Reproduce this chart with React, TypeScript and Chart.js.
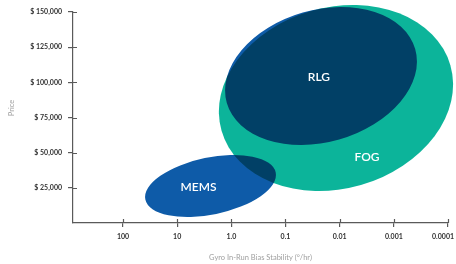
import { useEffect, useRef } from "react";
import { Chart, registerables } from "chart.js";

Chart.register(...registerables);

// Axis ticks
const xTickValues = [100, 10, 1, 0.1, 0.01, 0.001, 0.0001];
const xTickLabels = ["100", "10", "1.0", "0.1", "0.01", "0.001", "0.0001"];
const yTickValues = [25000, 50000, 75000, 100000, 125000, 150000];
const yTickLabels = ["$ 25,000", "$ 50,000", "$ 75,000", "$ 100,000", "$ 125,000", "$ 150,000"];

// Technology regions (ellipses)
const technologies = ["FOG", "RLG", "MEMS"];
const centerStability = [0.0117, 0.0221, 2.42]; // °/hr
const centerPrice = [88860, 104500, 26300]; // $
const spanDecades = [2.197, 1.809, 1.229]; // semi-axis along stability (decades)
const spanPrice = [64340, 46920, 20260]; // semi-axis along price ($)
const tiltDeg = [16, 16, 11.7];
const labelStability = [0.00313, 0.0241, 4.04];
const labelPrice = [46920, 103790, 25590];

const fillColors = ["#0cb49a", "#0e5ba8", "#0e5ba8"];
const blendModes = ["source-over", "multiply", "multiply"];

const AXIS_COLOR = "#5a5a5a";
const FONT = "Lato, 'Open Sans', sans-serif";

const ellipsePlugin = {
  id: "ellipses",
  beforeDatasetsDraw(chart: any) {
    const { ctx, scales } = chart;
    const xs = scales.x;
    const ys = scales.y;
    ctx.save();
    technologies.forEach((_, i) => {
      const cx = xs.getPixelForValue(centerStability[i]);
      const cy = ys.getPixelForValue(centerPrice[i]);
      const rx = Math.abs(xs.getPixelForValue(centerStability[i] * Math.pow(10, spanDecades[i])) - cx);
      const ry = Math.abs(ys.getPixelForValue(centerPrice[i] + spanPrice[i]) - cy);
      ctx.globalCompositeOperation = blendModes[i];
      ctx.fillStyle = fillColors[i];
      ctx.beginPath();
      ctx.ellipse(cx, cy, rx, ry, (-tiltDeg[i] * Math.PI) / 180, 0, Math.PI * 2);
      ctx.fill();
    });
    ctx.globalCompositeOperation = "source-over";
    ctx.fillStyle = "#ffffff";
    ctx.font = `600 12px ${FONT}`;
    ctx.textAlign = "center";
    ctx.textBaseline = "middle";
    technologies.forEach((name, i) => {
      ctx.fillText(name, xs.getPixelForValue(labelStability[i]), ys.getPixelForValue(labelPrice[i]));
    });
    ctx.restore();
  },
  afterDraw(chart: any) {
    const { ctx, scales, chartArea, width } = chart;
    const xs = scales.x;
    const ys = scales.y;
    ctx.save();
    ctx.strokeStyle = AXIS_COLOR;
    ctx.lineWidth = 1.2;
    ctx.beginPath();
    xTickValues.forEach((v) => {
      const px = Math.round(xs.getPixelForValue(v)) + 0.5;
      ctx.moveTo(px, chartArea.bottom);
      ctx.lineTo(px, chartArea.bottom - 4);
    });
    yTickValues.forEach((v) => {
      const py = Math.round(ys.getPixelForValue(v)) + 0.5;
      ctx.moveTo(chartArea.left, py);
      ctx.lineTo(chartArea.left + 4, py);
    });
    ctx.stroke();
    // x tick labels (kept inside the canvas)
    ctx.fillStyle = "#333333";
    ctx.font = `bold 7px ${FONT}`;
    ctx.textAlign = "center";
    ctx.textBaseline = "middle";
    xTickValues.forEach((v, i) => {
      const px = xs.getPixelForValue(v);
      const w = ctx.measureText(xTickLabels[i]).width;
      const cx = Math.min(px, width - 2 - w / 2);
      ctx.fillText(xTickLabels[i], cx, chartArea.bottom + 14);
    });
    // y axis title
    ctx.translate(12, 108);
    ctx.rotate(-Math.PI / 2);
    ctx.fillStyle = "#a0a0a0";
    ctx.font = `400 7.5px ${FONT}`;
    ctx.textAlign = "center";
    ctx.textBaseline = "middle";
    ctx.fillText("Price", 0, 0);
    ctx.restore();
  },
};

export default function App() {
  const canvasRef = useRef<HTMLCanvasElement | null>(null);

  useEffect(() => {
    if (!canvasRef.current) return;
    const chart = new Chart(canvasRef.current, {
      type: "scatter",
      data: {
        datasets: technologies.map((name, i) => ({
          label: name,
          data: [{ x: centerStability[i], y: centerPrice[i] }],
          pointRadius: 0,
          pointHoverRadius: 0,
        })),
      },
      options: {
        animation: false,
        responsive: false,
        maintainAspectRatio: false,
        events: [],
        layout: { padding: { top: 12, right: 8, left: 0, bottom: 0 }, autoPadding: false },
        plugins: { legend: { display: false }, tooltip: { enabled: false } },
        scales: {
          x: {
            type: "logarithmic",
            position: "bottom",
            reverse: true,
            min: 0.0001,
            max: 837,
            afterBuildTicks: (scale: any) => {
              scale.ticks = xTickValues.map((v) => ({ value: v }));
            },
            afterFit: (scale: any) => {
              scale.height = 41;
              scale.paddingLeft = 0;
              scale.paddingRight = 0;
            },
            ticks: {
              display: false,
              autoSkip: false,
              maxRotation: 0,
            },
            grid: { display: true, drawOnChartArea: false, drawTicks: true, tickLength: 4, color: AXIS_COLOR, lineWidth: 1.2 },
            border: { display: true, color: AXIS_COLOR, width: 1.2 },
            title: {
              display: true,
              text: "Gyro In-Run Bias Stability (°/hr)",
              color: "#a0a0a0",
              font: { family: FONT, size: 7.5, weight: "normal" },
              padding: { top: 0, bottom: 1.5 },
            },
          },
          y: {
            type: "linear",
            position: "left",
            min: 0,
            max: 150000,
            afterBuildTicks: (scale: any) => {
              scale.ticks = yTickValues.map((v) => ({ value: v }));
            },
            afterFit: (scale: any) => {
              scale.width = 73;
              scale.paddingTop = 0;
              scale.paddingBottom = 0;
            },
            ticks: {
              autoSkip: false,
              padding: 6,
              color: "#333333",
              font: { family: FONT, size: 7, weight: "bold" },
              callback: (_v: any, idx: number) => yTickLabels[idx],
            },
            grid: { display: true, drawOnChartArea: false, drawTicks: true, tickLength: 5, color: AXIS_COLOR, lineWidth: 1.2 },
            border: { display: true, color: AXIS_COLOR, width: 1.2 },
          },
        },
      },
      plugins: [ellipsePlugin],
    } as any);
    return () => chart.destroy();
  }, []);

  return (
    <div style={{ position: "fixed", left: 0, top: 0, width: 456, height: 264, background: "#ffffff" }}>
      <canvas ref={canvasRef} width={456} height={264} style={{ width: 456, height: 264, display: "block" }} />
    </div>
  );
}
